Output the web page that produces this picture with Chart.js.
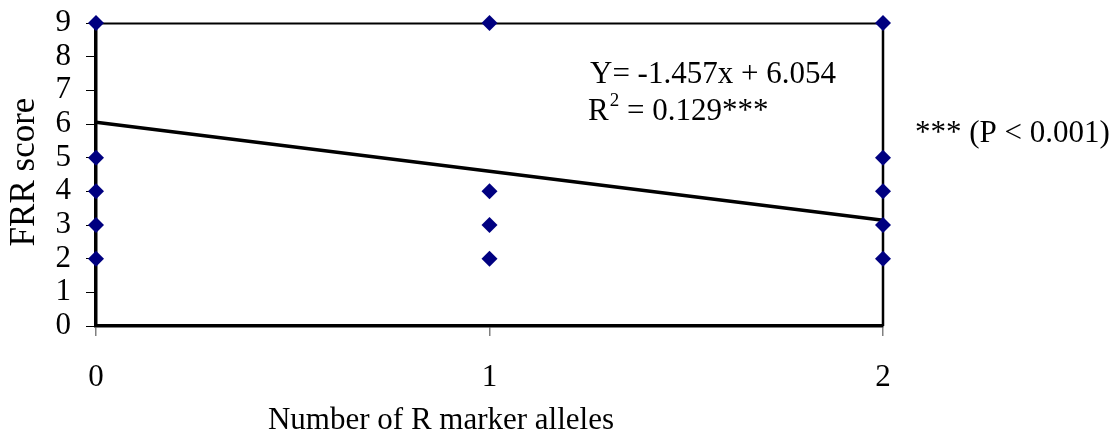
<!DOCTYPE html>
<html>
<head>
<meta charset="utf-8">
<script src="https://cdn.jsdelivr.net/npm/chart.js@4/dist/chart.umd.min.js"></script>
<style>
  html, body { margin: 0; padding: 0; background: #fff; }
  #wrap { width: 1118px; height: 434px; position: relative; }
</style>
</head>
<body>
<div id="wrap"><canvas id="c" width="1118" height="434"></canvas></div>
<script>
// ---- Data ----
const alleles   = [0, 0, 0, 0, 0, 1, 1, 1, 1, 2, 2, 2, 2, 2];
const frrScores = [9, 5, 4, 3, 2, 9, 4, 3, 2, 9, 5, 4, 3, 2];
const regSlope = [-1.457];
const regIntercept = [6.054];
const regRange = [0, 2];
const xTicks = [0, 1, 2];
const yTicks = [0, 1, 2, 3, 4, 5, 6, 7, 8, 9];
const eqLine1 = "Y= -1.457x + 6.054";
const eqLine2a = "R";
const eqLine2sup = "2";
const eqLine2b = " = 0.129***";
const pNote = "*** (P < 0.001)";
const xTitle = "Number of R marker alleles";
const yTitle = "FRR score";

const FONT = "'Liberation Serif', 'Times New Roman', serif";
const FS = 31;

const points = alleles.map((x, i) => ({ x: x, y: frrScores[i] }));
const regLine = regRange.map(x => ({ x: x, y: regIntercept[0] + regSlope[0] * x }));

const decor = {
  id: 'decor',
  beforeDatasetsDraw(chart) {
    const { ctx, chartArea: a } = chart;
    ctx.save();
    ctx.strokeStyle = '#000';
    ctx.lineWidth = 2;
    ctx.beginPath();
    ctx.moveTo(a.left, a.top + 0.5);
    ctx.lineTo(a.right, a.top + 0.5);
    ctx.stroke();
    ctx.lineWidth = 2.5;
    ctx.beginPath();
    ctx.moveTo(a.right, a.top);
    ctx.lineTo(a.right, a.bottom);
    ctx.stroke();
    ctx.restore();
  },
  afterDraw(chart) {
    const { ctx, chartArea: a } = chart;
    ctx.save();
    ctx.fillStyle = '#000';
    ctx.font = FS + 'px ' + FONT;
    ctx.textBaseline = 'alphabetic';
    ctx.textAlign = 'left';
    // equation
    ctx.fillText(eqLine1, 590, 83);
    ctx.fillText(eqLine2a, 588, 120);
    const rw = ctx.measureText(eqLine2a).width;
    ctx.font = Math.round(FS * 0.62) + 'px ' + FONT;
    ctx.fillText(eqLine2sup, 588 + rw + 1, 106);
    const sw = ctx.measureText(eqLine2sup).width;
    ctx.font = FS + 'px ' + FONT;
    ctx.fillText(eqLine2b, 588 + rw + sw + 1, 120);
    // p note
    ctx.fillText(pNote, 915, 142);
    // x title
    ctx.textAlign = 'center';
    ctx.fillText(xTitle, 441, 429);
    // y title
    ctx.font = '35px ' + FONT;
    ctx.translate(34, 172);
    ctx.rotate(-Math.PI / 2);
    ctx.textAlign = 'center';
    ctx.fillText(yTitle, 0, 0);
    ctx.restore();
  }
};

new Chart(document.getElementById('c'), {
  type: 'scatter',
  data: {
    datasets: [
      {
        type: 'line',
        data: regLine,
        borderColor: '#000',
        borderWidth: 3.5,
        pointRadius: 0,
        fill: false,
        clip: false,
        order: 2
      },
      {
        data: points,
        pointStyle: 'rectRot',
        pointRadius: 8,
        pointHoverRadius: 8,
        backgroundColor: '#000080',
        borderColor: '#000080',
        borderWidth: 0,
        clip: false,
        order: 1
      }
    ]
  },
  plugins: [decor],
  options: {
    responsive: false,
    animation: false,
    devicePixelRatio: 1,
    layout: { padding: { left: 0, right: 235, top: 23, bottom: 0 } },
    plugins: { legend: { display: false }, tooltip: { enabled: false } },
    scales: {
      x: {
        type: 'linear',
        min: 0, max: 2,
        afterFit(s) { s.height = 108; s.paddingLeft = 0; s.paddingRight = 0; },
        afterBuildTicks(s) { s.ticks = xTicks.map(v => ({ value: v })); },
        ticks: { color: '#000', font: { family: FONT, size: FS }, padding: 23, autoSkip: false, maxRotation: 0 },
        grid: { drawOnChartArea: false, color: '#808080', tickLength: 10, lineWidth: 1.5 },
        border: { display: true, color: '#000', width: 3.5 }
      },
      y: {
        type: 'linear',
        min: 0, max: 9,
        afterFit(s) { s.width = 96; s.paddingTop = 0; s.paddingBottom = 0; },
        afterBuildTicks(s) { s.ticks = yTicks.map(v => ({ value: v })); },
        ticks: { color: '#000', font: { family: FONT, size: FS }, padding: 15, autoSkip: false },
        grid: { drawOnChartArea: false, color: '#000', tickLength: 10, lineWidth: 1 },
        border: { display: true, color: '#000', width: 3.5 }
      }
    }
  }
});
</script>
</body>
</html>
